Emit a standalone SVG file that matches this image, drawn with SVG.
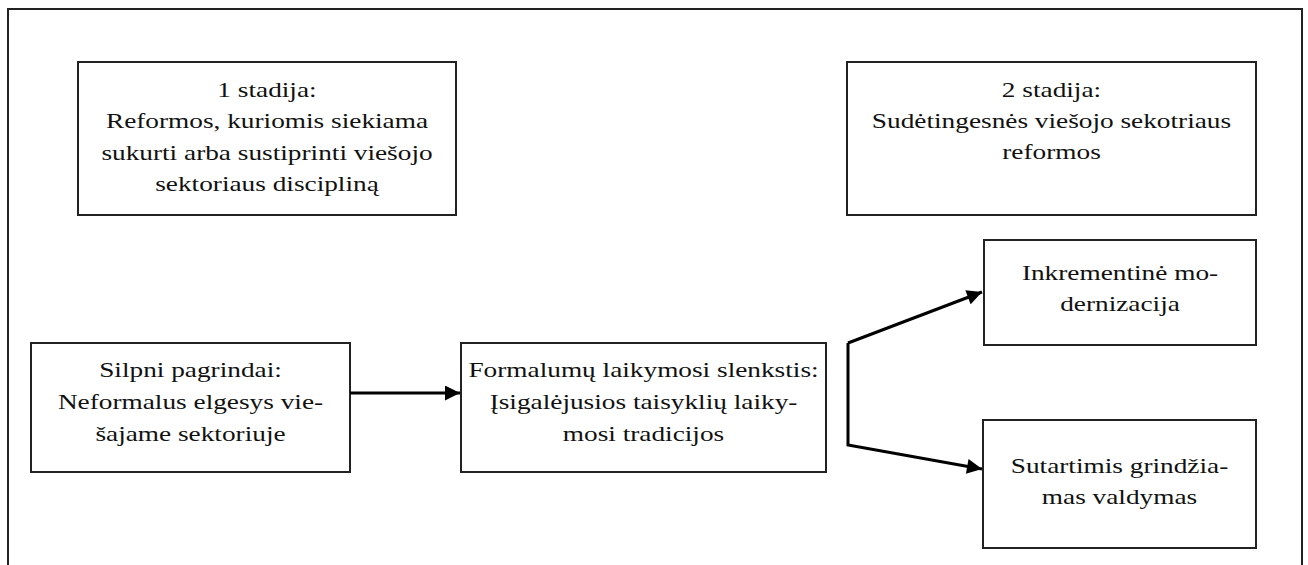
<svg xmlns="http://www.w3.org/2000/svg" width="1308" height="565" viewBox="0 0 1308 565">
<style>
.box{fill:#fff;stroke:#222;stroke-width:2}
.frame{fill:none;stroke:#222;stroke-width:2}
.t{font-family:"Liberation Serif","Times New Roman",serif;font-size:21px;fill:#111;text-anchor:middle}
.conn{fill:none;stroke:#000;stroke-width:3}
</style>
<defs>
<marker id="ah" viewBox="0 0 10 10" refX="10" refY="5" markerWidth="5.5" markerHeight="5" orient="auto" markerUnits="strokeWidth">
<path d="M0,0 L10,5 L0,10 z" fill="#000"/>
</marker>
</defs>
<rect class="frame" x="8" y="9" width="1294" height="570"/>
<g id="stage1">
<rect class="box" x="78" y="62" width="378" height="153"/>
<g transform="translate(267,0) scale(1.3,1)">
<text class="t" x="0" y="97">1 stadija:</text>
<text class="t" x="0" y="128">Reformos, kuriomis siekiama</text>
<text class="t" x="0" y="160">sukurti arba sustiprinti viešojo</text>
<text class="t" x="0" y="191">sektoriaus discipliną</text>
</g>
</g>
<g id="stage2">
<rect class="box" x="847" y="62" width="409" height="153"/>
<g transform="translate(1051.5,0) scale(1.3,1)">
<text class="t" x="0" y="97">2 stadija:</text>
<text class="t" x="0" y="128">Sudėtingesnės viešojo sekotriaus</text>
<text class="t" x="0" y="159">reformos</text>
</g>
</g>
<g id="incremental">
<rect class="box" x="984" y="240" width="272" height="105"/>
<g transform="translate(1120,0) scale(1.3,1)">
<text class="t" x="0" y="280">Inkrementinė mo-</text>
<text class="t" x="0" y="311">dernizacija</text>
</g>
</g>
<g id="contract">
<rect class="box" x="983" y="420" width="273" height="128"/>
<g transform="translate(1119.5,0) scale(1.3,1)">
<text class="t" x="0" y="473">Sutartimis grindžia-</text>
<text class="t" x="0" y="504">mas valdymas</text>
</g>
</g>
<g id="weak">
<rect class="box" x="31" y="343" width="319" height="129"/>
<g transform="translate(190.5,0) scale(1.3,1)">
<text class="t" x="0" y="377">Silpni pagrindai:</text>
<text class="t" x="0" y="409">Neformalus elgesys vie-</text>
<text class="t" x="0" y="441">šajame sektoriuje</text>
</g>
</g>
<g id="threshold">
<rect class="box" x="461" y="343" width="365" height="129"/>
<g transform="translate(643.5,0) scale(1.3,1)">
<text class="t" x="0" y="377">Formalumų laikymosi slenkstis:</text>
<text class="t" x="0" y="409">Įsigalėjusios taisyklių laiky-</text>
<text class="t" x="0" y="441">mosi tradicijos</text>
</g>
</g>
<g id="connectors">
<line class="conn" x1="350" y1="393" x2="460" y2="393" marker-end="url(#ah)"/>
<polyline class="conn" points="848,343 848,445 982,469" marker-end="url(#ah)"/>
<path class="conn" d="M848,343 L982,292" marker-end="url(#ah)"/>
</g>
</svg>
